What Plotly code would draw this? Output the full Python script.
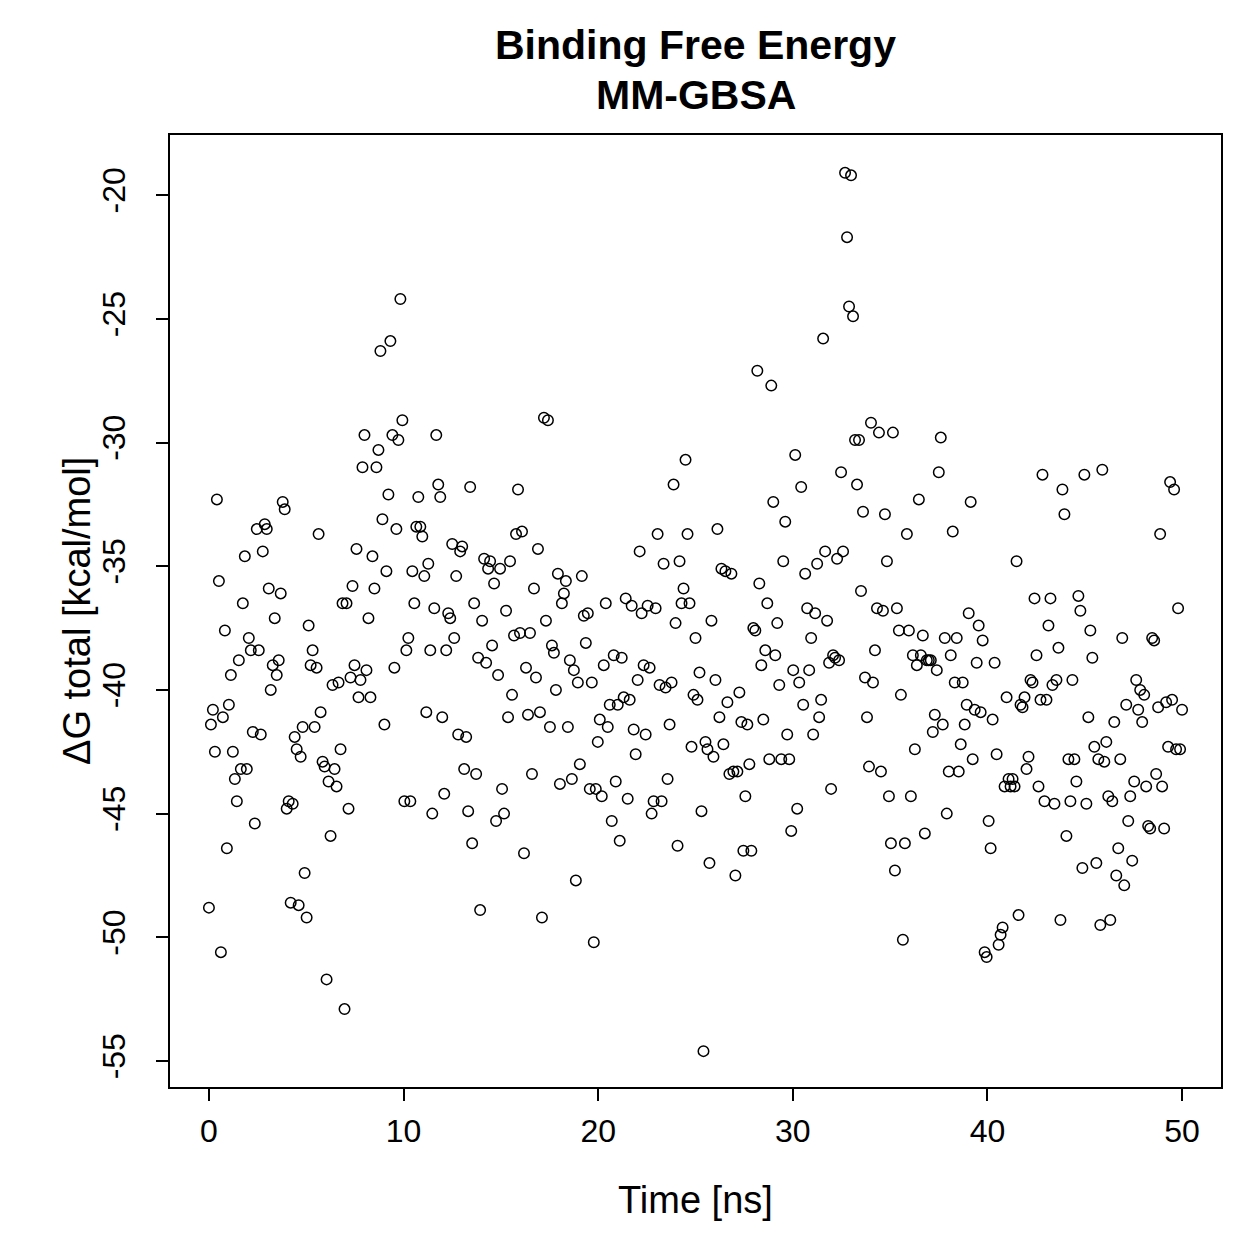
import plotly.graph_objects as go

dg_total = [
-48.8, -41.4, -40.8, -42.5, -32.3, -35.6, -50.6, -41.1, -37.6, -46.4,
-40.6, -39.4, -42.5, -43.6, -44.5, -38.8, -43.2, -36.5, -34.6, -43.2,
-37.9, -38.4, -41.7, -45.4, -33.5, -38.4, -41.8, -34.4, -33.3, -33.5,
-35.9, -40.0, -39.0, -37.1, -39.4, -38.8, -36.1, -32.4, -32.7, -44.8,
-44.5, -48.6, -44.6, -41.9, -42.4, -48.7, -42.7, -41.5, -47.4, -49.2,
-37.4, -39.0, -38.4, -41.5, -39.1, -33.7, -40.9, -42.9, -43.1, -51.7,
-43.7, -45.9, -39.8, -43.2, -43.9, -39.7, -42.4, -36.5, -52.9, -36.5,
-44.8, -39.5, -35.8, -39.0, -34.3, -40.3, -39.6, -31.0, -29.7, -39.2,
-37.1, -40.3, -34.6, -35.9, -31.0, -30.3, -26.3, -33.1, -41.4, -35.2,
-32.1, -25.9, -29.7, -39.1, -33.5, -29.9, -24.2, -29.1, -44.5, -38.4,
-37.9, -44.5, -35.2, -36.5, -33.4, -32.2, -33.4, -33.8, -35.4, -40.9,
-34.9, -38.4, -45.0, -36.7, -29.7, -31.7, -32.2, -41.1, -44.2, -38.4,
-36.9, -37.1, -34.1, -37.9, -35.4, -41.8, -34.4, -34.2, -43.2, -41.9,
-44.9, -31.8, -46.2, -36.5, -43.4, -38.7, -48.9, -37.2, -34.7, -38.9,
-35.1, -34.8, -38.2, -35.7, -45.3, -39.4, -35.1, -44.0, -45.0, -36.8,
-41.1, -34.8, -40.2, -37.8, -33.7, -31.9, -37.7, -33.6, -46.6, -39.1,
-41.0, -37.7, -43.4, -35.9, -39.5, -34.3, -40.9, -49.2, -29.0, -37.2,
-29.1, -41.5, -38.2, -38.5, -40.0, -35.3, -43.8, -36.5, -36.1, -35.6,
-41.5, -38.8, -43.6, -39.2, -47.7, -39.7, -43.0, -35.4, -37.0, -38.1,
-36.9, -44.0, -39.7, -50.2, -44.0, -42.1, -41.2, -44.3, -39.0, -36.5,
-41.5, -40.6, -45.3, -38.6, -43.7, -40.6, -46.1, -38.7, -40.3, -36.3,
-44.4, -40.4, -36.6, -41.6, -42.6, -39.6, -34.4, -36.9, -39.0, -41.8,
-36.6, -39.1, -45.0, -44.5, -36.7, -33.7, -39.8, -44.5, -34.9, -39.9,
-43.6, -41.4, -39.7, -31.7, -37.3, -46.3, -34.8, -36.5, -35.9, -30.7,
-33.7, -36.5, -42.3, -40.2, -37.9, -40.4, -39.3, -44.9, -54.6, -42.1,
-42.4, -47.0, -37.2, -42.7, -39.6, -33.5, -41.1, -35.1, -42.2, -35.2,
-40.5, -43.4, -35.3, -43.3, -47.5, -43.3, -40.1, -41.3, -46.5, -44.3,
-41.4, -43.0, -46.5, -37.5, -37.6, -27.1, -35.7, -39.0, -41.2, -38.4,
-36.5, -42.8, -27.7, -32.4, -38.6, -37.3, -39.8, -42.8, -34.8, -33.2,
-41.8, -42.8, -45.7, -39.2, -30.5, -44.8, -39.7, -31.8, -40.6, -35.3,
-36.7, -39.2, -37.9, -41.8, -36.9, -34.9, -41.1, -40.4, -25.8, -34.4,
-37.2, -38.9, -44.0, -38.6, -38.7, -34.7, -38.8, -31.2, -34.4, -19.1,
-21.7, -24.5, -19.2, -24.9, -29.9, -31.7, -29.9, -36.0, -32.8, -39.5,
-41.1, -43.1, -29.2, -39.7, -38.4, -36.7, -29.6, -43.3, -36.8, -32.9,
-34.8, -44.3, -46.2, -29.6, -47.3, -36.7, -37.6, -40.2, -50.1, -46.2,
-33.7, -37.6, -44.3, -38.6, -42.4, -39.0, -32.3, -38.6, -37.8, -45.8,
-38.8, -38.8, -38.8, -41.7, -41.0, -39.2, -31.2, -29.8, -41.4, -37.9,
-45.0, -43.3, -38.6, -33.6, -39.7, -37.9, -43.3, -42.2, -39.7, -41.4,
-40.6, -36.9, -32.4, -42.8, -40.8, -38.9, -37.4, -40.9, -38.0, -50.6,
-50.8, -45.3, -46.4, -41.2, -38.9, -42.6, -50.3, -49.9, -49.6, -43.9,
-40.3, -43.6, -43.9, -43.6, -43.9, -34.8, -49.1, -40.6, -40.7, -40.3,
-43.2, -42.7, -39.6, -39.7, -36.3, -38.6, -43.9, -40.4, -31.3, -44.5,
-40.4, -37.4, -36.3, -39.8, -44.6, -39.6, -38.3, -49.3, -31.9, -32.9,
-45.9, -42.8, -44.5, -39.6, -42.8, -43.7, -36.2, -36.8, -47.2, -31.3,
-44.6, -41.1, -37.6, -38.7, -42.3, -47.0, -42.8, -49.5, -31.1, -42.9,
-42.1, -44.3, -49.3, -44.5, -41.3, -47.5, -46.4, -42.8, -37.9, -47.9,
-40.6, -45.3, -44.3, -46.9, -43.7, -39.6, -40.8, -40.0, -41.3, -40.2,
-43.9, -45.5, -45.6, -37.9, -38.0, -43.4, -40.7, -33.7, -43.9, -45.6,
-40.5, -42.3, -31.6, -40.4, -31.9, -42.4, -36.7, -42.4, -40.8,
]

# frames sampled uniformly over 0-50 ns
n_frames = len(dg_total)
time_ns = [round(50.0 * i / (n_frames - 1), 4) for i in range(n_frames)]

x_ticks = [0, 10, 20, 30, 40, 50]
x_tick_labels = ["0", "10", "20", "30", "40", "50"]
y_ticks = [-20, -25, -30, -35, -40, -45, -50, -55]
y_tick_labels = ["-20", "-25", "-30", "-35", "-40", "-45", "-50", "-55"]

FONT = "Liberation Sans"

fig = go.Figure(
    go.Scatter(
        x=time_ns, y=dg_total, mode="markers",
        marker=dict(symbol="circle-open", size=10.5, color="black",
                    line=dict(width=1.5, color="black")),
        showlegend=False,
    )
)

axis_common = dict(
    showgrid=False, zeroline=False, showline=True, mirror=True,
    linecolor="black", linewidth=2, ticks="outside", ticklen=12,
    tickwidth=2, tickcolor="black",
    tickfont=dict(family=FONT, size=32, color="black"),
)

fig.update_layout(
    width=1259, height=1259,
    margin=dict(l=170, r=38, t=135, b=172),
    paper_bgcolor="white", plot_bgcolor="white",
    xaxis=dict(range=[-2, 52], tickvals=x_ticks, ticktext=x_tick_labels,
               ticklabelstandoff=3, **axis_common),
    yaxis=dict(range=[-56.05, -17.57], tickvals=y_ticks, ticktext=y_tick_labels,
               tickangle=-90, ticklabelstandoff=18, **axis_common),
    annotations=[
        dict(text="<b>Binding Free Energy</b>", x=0.5, y=1.0945, xref="paper", yref="paper",
             xanchor="center", yanchor="middle", showarrow=False,
             font=dict(family=FONT, size=41, color="black")),
        dict(text="<b>MM-GBSA</b>", x=0.5, y=1.042, xref="paper", yref="paper",
             xanchor="center", yanchor="middle", showarrow=False,
             font=dict(family=FONT, size=41, color="black")),
        dict(text="Time [ns]", x=0.5, y=-0.1187, xref="paper", yref="paper",
             xanchor="center", yanchor="middle", showarrow=False,
             font=dict(family=FONT, size=38, color="black")),
        dict(text="ΔG total [kcal/mol]", x=-0.0885, y=0.5, xref="paper", yref="paper",
             xanchor="center", yanchor="middle", showarrow=False, textangle=-90,
             font=dict(family=FONT, size=38, color="black")),
    ],
)

fig.write_html("out.html")
